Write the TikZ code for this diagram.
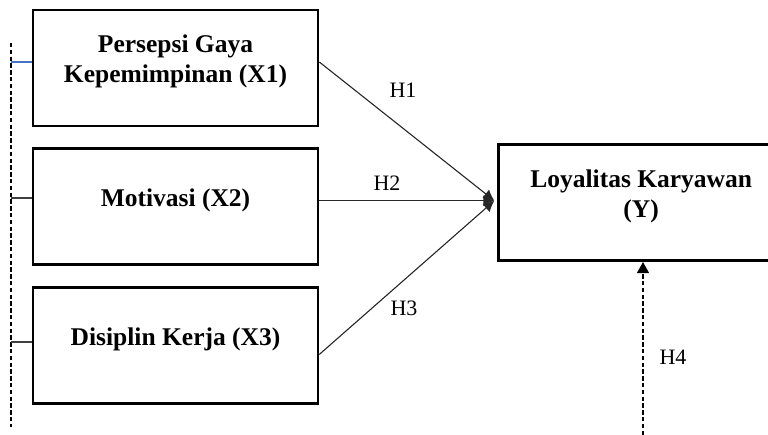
\documentclass[tikz,border=0pt]{standalone}
\usepackage{fontspec}
\setmainfont{Liberation Serif}
\usetikzlibrary{positioning,arrows.meta}
\definecolor{linkblue}{HTML}{4472C4}

\begin{document}
\begin{tikzpicture}[%
    x=0.5pt, y=-0.5pt,          % work in pixels, y going down
    node distance=10pt and 89pt,% Global setup of box spacing
    >={Latex[length=5.5pt,width=5.5pt]},
    ]
% -------------------------------------------------
% Box and line styles
\tikzset{
  box/.style={draw, line width=1.35pt, minimum width=142.5pt, minimum height=58pt,
    align=center, text depth=9pt, font=\fontsize{12.75}{15}\selectfont\bfseries},
  hyp/.style={->, line width=0.55pt, black!85},
  side/.style={line width=0.6pt, black!75},
  dashline/.style={line width=0.55pt, dash pattern=on 2.2pt off 1.2pt},
  hlabel/.style={font=\fontsize{11}{13}\selectfont}
}
\useasboundingbox (0,0) rectangle (768,435);
% -------------------------------------------------
% Start by placing the nodes
\node [box] (x1) at (175.5,68) {Persepsi Gaya\\Kepemimpinan (X1)};
\node [box, below = of x1] (x2) {Motivasi (X2)};
\node [box, below = of x2] (x3) {Disiplin Kerja (X3)};
\node [box, right = of x2, yshift=2pt] (y) {Loyalitas Karyawan\\(Y)};

% -------------------------------------------------
% Hypothesis arrows
\coordinate (ytip) at ([xshift=-1.5pt,yshift=1pt]y.west);
\draw [hyp] ([yshift=3pt]x1.east) -- (ytip);
\draw [hyp] ([yshift=3pt]x2.east) -- (ytip);
\draw [hyp] ([yshift=-4.5pt]x3.east) -- (ytip);

\coordinate (h4foot) at (643,435);
\draw [dashline, -{Triangle[length=5.5pt,width=6pt]}] (h4foot) -- (h4foot |- y.south);

% Left dashed bracket
\coordinate (ltop) at (11,43);
\coordinate (lbot) at (11,427);
\coordinate (l1) at (11,62);
\coordinate (l2) at (11,198);
\coordinate (l3) at (11,342);
\draw [dashline] (ltop) -- (lbot);
\draw [side, linkblue] (l1) -- (l1 -| x1.west);
\draw [side] (l2) -- (l2 -| x2.west);
\draw [side] (l3) -- (l3 -| x3.west);

% Labels
\node [hlabel] (h1) at (403,90) {H1};
\node [hlabel] (h2) at (387,183) {H2};
\node [hlabel] (h3) at (404,308) {H3};
\node [hlabel] (h4) at (673,357) {H4};
% -------------------------------------------------
\end{tikzpicture}
\end{document}
